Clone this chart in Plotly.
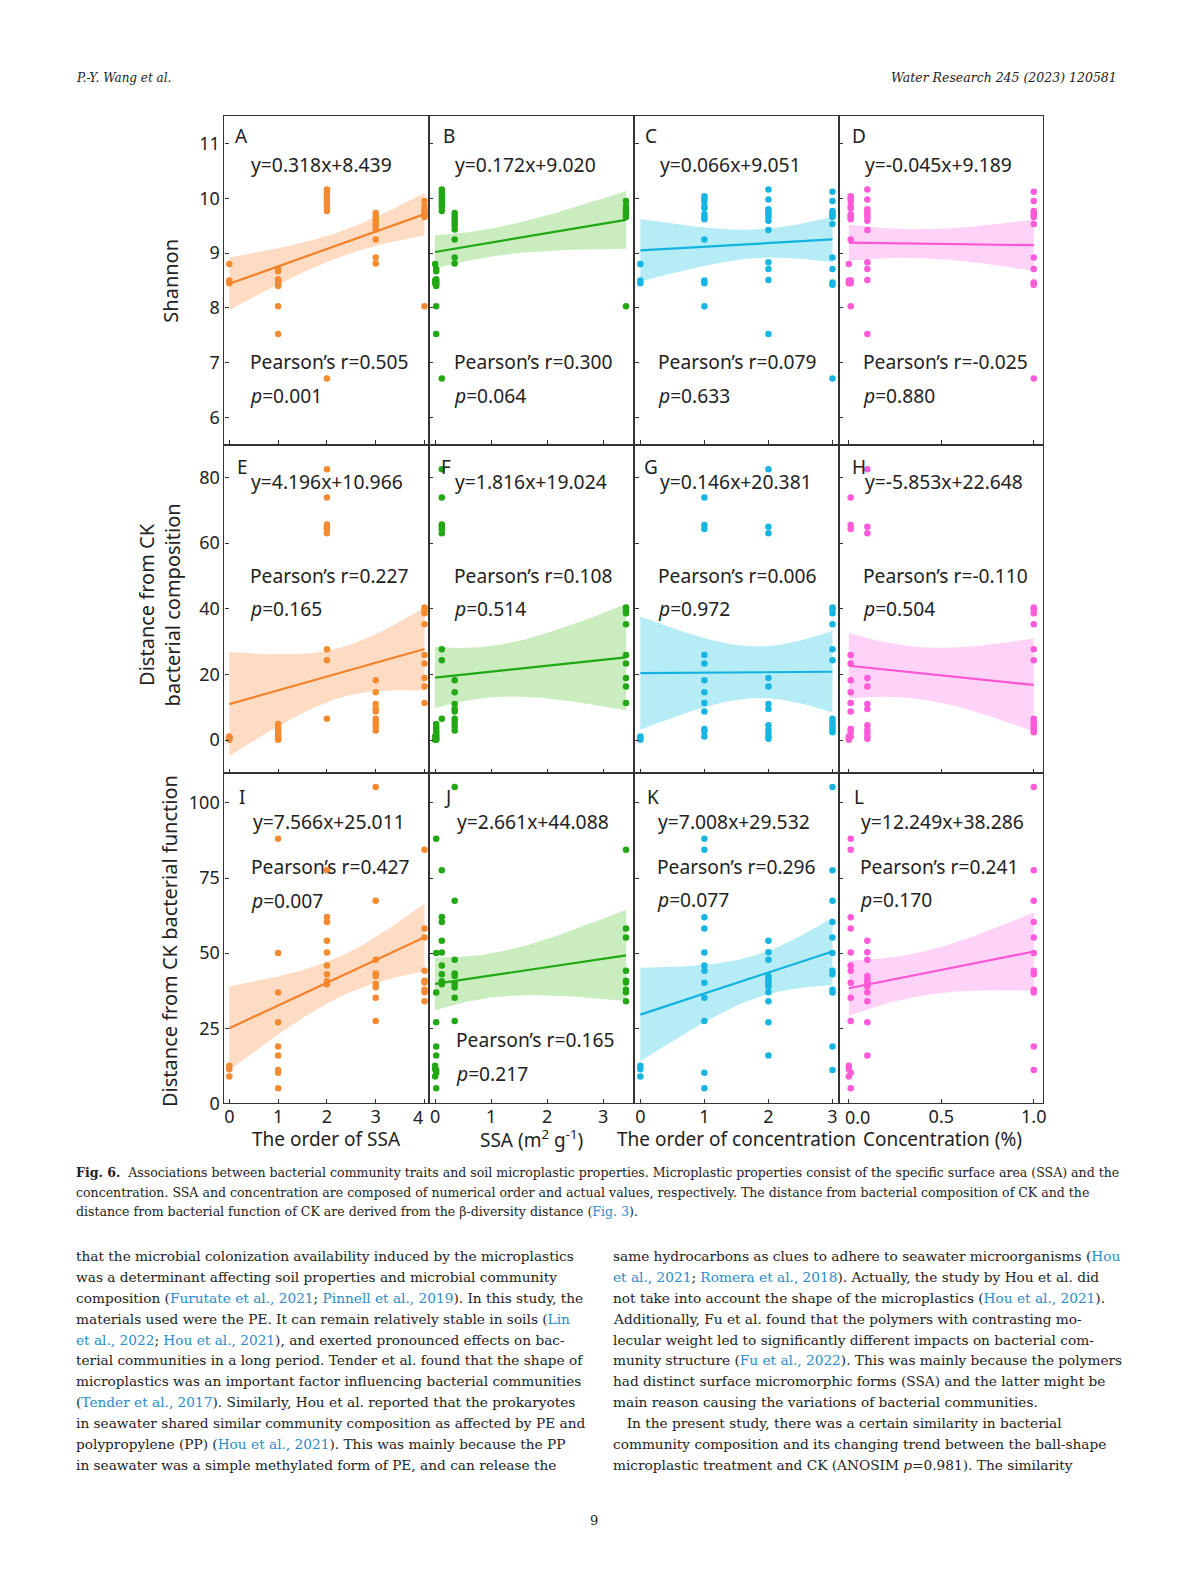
import numpy as np
import plotly.graph_objects as go

# ---------------- data ----------------
ssa_order = [0, 1, 2, 3, 4]
ssa_value = [0.0, 0.02, 0.12, 0.35, 3.41]
conc_order = [0, 1, 2, 3]
conc_value = [0.0, 0.01, 0.1, 1.0]

# Shannon index
shannon_ck = [8.80, 8.50, 8.45]
shannon_ssa1 = [8.71, 8.67, 8.52, 8.49, 8.46, 8.43, 8.40, 8.03, 7.52]
shannon_ssa2 = [10.16, 10.11, 10.05, 10.00, 9.95, 9.90, 9.84, 9.77, 6.71]
shannon_ssa3 = [9.73, 9.67, 9.62, 9.56, 9.50, 9.43, 9.25, 8.92, 8.81]
shannon_ssa4 = [9.95, 9.86, 9.80, 9.77, 9.73, 9.70, 9.68, 9.66, 8.03]
shannon_conc1 = [10.04, 10.00, 9.95, 9.86, 9.82, 9.71, 9.66, 9.62, 9.25, 8.50, 8.45, 8.03]
shannon_conc2 = [10.16, 9.98, 9.80, 9.76, 9.71, 9.66, 9.59, 9.42, 8.83, 8.71, 8.51, 7.52]
shannon_conc3 = [10.12, 9.95, 9.77, 9.73, 9.69, 9.66, 9.53, 8.92, 8.71, 8.46, 8.42, 6.71]

# Distance from CK bacterial composition
comp_ck = [1.1, 0.6, 0.1]
comp_ssa1 = [4.9, 3.9, 3.1, 2.6, 1.9, 1.3, 0.8, 0.4, 0.1]
comp_ssa2 = [82.5, 73.9, 65.7, 65.0, 64.2, 63.0, 27.7, 24.3, 6.5]
comp_ssa3 = [18.2, 14.6, 11.0, 9.5, 8.7, 6.5, 5.5, 4.2, 2.9]
comp_ssa4 = [40.4, 39.5, 38.6, 35.3, 25.9, 23.3, 18.9, 16.3, 11.3]
comp_conc1 = [73.9, 65.5, 64.3, 25.9, 23.3, 18.2, 14.6, 11.3, 8.7, 3.4, 2.6, 1.1]
comp_conc2 = [82.5, 65.0, 63.0, 18.9, 16.3, 11.0, 9.5, 4.5, 3.1, 2.2, 1.2, 0.4]
comp_conc3 = [40.4, 39.7, 38.6, 35.3, 27.7, 24.3, 6.5, 5.5, 4.5, 3.9, 3.1, 2.4]

# Distance from CK bacterial function
func_ck = [12.5, 11.3, 8.9]
func_ssa1 = [88.1, 50.0, 36.9, 27.0, 18.9, 15.9, 11.1, 10.2, 5.0]
func_ssa2 = [77.6, 62.0, 60.4, 54.1, 50.2, 45.9, 43.0, 40.6, 39.6]
func_ssa3 = [105.3, 67.4, 47.8, 43.2, 42.4, 39.8, 38.6, 35.1, 27.4]
func_ssa4 = [84.4, 58.2, 55.2, 44.1, 40.8, 40.2, 37.8, 37.0, 34.0]
func_conc1 = [88.1, 84.4, 61.9, 58.2, 50.2, 45.9, 44.1, 40.1, 35.1, 27.4, 10.2, 5.0]
func_conc2 = [54.1, 50.3, 47.8, 42.4, 41.4, 40.6, 39.8, 38.9, 37.0, 34.0, 27.0, 15.9]
func_conc3 = [105.3, 77.6, 67.4, 60.4, 55.2, 50.0, 44.1, 43.0, 37.8, 36.9, 18.9, 11.1]

# regression results printed in panels A..L
panel_letters = ["A", "B", "C", "D", "E", "F", "G", "H", "I", "J", "K", "L"]
slopes = [0.318, 0.172, 0.066, -0.045, 4.196, 1.816, 0.146, -5.853, 7.566, 2.661, 7.008, 12.249]
intercepts = [8.439, 9.020, 9.051, 9.189, 10.966, 19.024, 20.381, 22.648, 25.011, 44.088, 29.532, 38.286]
pearson_r = ["0.505", "0.300", "0.079", "-0.025", "0.227", "0.108", "0.006", "-0.110",
             "0.427", "0.165", "0.296", "0.241"]
p_values = ["0.001", "0.064", "0.633", "0.880", "0.165", "0.514", "0.972", "0.504",
            "0.007", "0.217", "0.077", "0.170"]
# panel J: the drawn line follows the least-squares fit of the points, not its printed label
line_from_fit = [False] * 9 + [True] + [False] * 2

row_ssa_groups = [
    [shannon_ck, shannon_ssa1, shannon_ssa2, shannon_ssa3, shannon_ssa4],
    [comp_ck, comp_ssa1, comp_ssa2, comp_ssa3, comp_ssa4],
    [func_ck, func_ssa1, func_ssa2, func_ssa3, func_ssa4],
]
row_conc_groups = [
    [shannon_ck, shannon_conc1, shannon_conc2, shannon_conc3],
    [comp_ck, comp_conc1, comp_conc2, comp_conc3],
    [func_ck, func_conc1, func_conc2, func_conc3],
]

y_ranges = [[5.5, 11.5], [-10, 90], [0, 110]]
y_ticks = [[6, 7, 8, 9, 10, 11], [0, 20, 40, 60, 80], [0, 25, 50, 75, 100]]
x_ranges = [[-0.1, 4.09], [-0.11, 3.56], [-0.093, 3.10], [-0.054, 1.052]]
x_ticks = [[0, 1, 2, 3, 4], [0, 1, 2, 3], [0, 1, 2, 3], [0, 0.5, 1.0]]
x_ticktext = [["0", "1", "2", "3", ""], ["0", "1", "2", "3"], ["0", "1", "2", "3"], ["", "0.5", "1.0"]]

point_colors = ["#F58B31", "#22A814", "#17B6E2", "#FF5BD8"]
line_colors = ["#F4822A", "#1EA812", "#12B3E0", "#FF55D4"]
band_colors = ["#FDDCC3", "#C9EDBE", "#B5ECF5", "#FFD3F8"]

# ---------------- layout geometry (page pixels) ----------------
OFF = 8
W, H = 1190 - 2 * OFF, 1587 - 2 * OFF


def px(x):
    return (x - OFF) / W


def py(y):
    return 1 - (y - OFF) / H


col_edges = [225, 430, 636, 841, 1046]
row_edges = [117, 447.7, 778.3, 1111]

SANS = "Noto Sans"
SERIF = "DejaVu Serif"
INK = "#222222"
AX = "#333333"

fig = go.Figure()
layout_axes = {}

T_CRIT = 2.026
for r in range(3):
    for c in range(4):
        k = r * 4 + c + 1
        if c < 2:
            groups = row_ssa_groups[r]
            xs_g = ssa_order if c == 0 else ssa_value
        else:
            groups = row_conc_groups[r]
            xs_g = conc_order if c == 2 else conc_value
        x = np.concatenate([[xs_g[g]] * len(groups[g]) for g in range(len(groups))]).astype(float)
        y = np.concatenate([groups[g] for g in range(len(groups))]).astype(float)
        if line_from_fit[k - 1]:
            b, a = np.polyfit(x, y, 1)
        else:
            b, a = slopes[k - 1], intercepts[k - 1]
        n = len(x)
        xbar = x.mean()
        sxx = ((x - xbar) ** 2).sum()
        s = np.sqrt(((y - (a + b * x)) ** 2).sum() / (n - 2))
        xl = np.linspace(x.min(), x.max(), 100)
        yl = a + b * xl
        se = s * np.sqrt(1.0 / n + (xl - xbar) ** 2 / sxx)
        up = yl + T_CRIT * se
        lo = yl - T_CRIT * se
        xa = "x" if k == 1 else f"x{k}"
        ya = "y" if k == 1 else f"y{k}"
        fig.add_trace(go.Scatter(
            x=np.concatenate([xl, xl[::-1]]), y=np.concatenate([up, lo[::-1]]),
            fill="toself", fillcolor=band_colors[c], line=dict(width=0),
            mode="lines", hoverinfo="skip", showlegend=False, xaxis=xa, yaxis=ya))
        fig.add_trace(go.Scatter(
            x=x, y=y, mode="markers",
            marker=dict(color=point_colors[c], size=6.5, line=dict(width=0)),
            showlegend=False, xaxis=xa, yaxis=ya))
        fig.add_trace(go.Scatter(
            x=xl, y=yl, mode="lines", line=dict(color=line_colors[c], width=2.2),
            showlegend=False, xaxis=xa, yaxis=ya))

        xname = "xaxis" if k == 1 else f"xaxis{k}"
        yname = "yaxis" if k == 1 else f"yaxis{k}"
        layout_axes[xname] = dict(
            domain=[px(col_edges[c]), px(col_edges[c + 1])],
            anchor=ya, range=x_ranges[c], tickvals=x_ticks[c], ticktext=x_ticktext[c],
            showticklabels=(r == 2), ticks="inside", ticklen=4, tickwidth=1.3, tickcolor=AX,
            ticklabelstandoff=-3,
            showline=True, linecolor=AX, linewidth=1.25, mirror=True,
            showgrid=False, zeroline=False,
            tickfont=dict(family=SANS, size=18, color=INK))
        layout_axes[yname] = dict(
            domain=[py(row_edges[r + 1]), py(row_edges[r])],
            anchor=xa, range=y_ranges[r], tickvals=y_ticks[r],
            showticklabels=(c == 0), ticks="inside", ticklen=4, tickwidth=1.3, tickcolor=AX,
            showline=True, linecolor=AX, linewidth=1.25, mirror=True,
            showgrid=False, zeroline=False,
            tickfont=dict(family=SANS, size=18, color=INK))

ann = []


def text(x, y, s, size=19, family=SANS, anchor="left", color=INK, angle=0):
    ann.append(dict(x=px(x), y=py(y), xref="paper", yref="paper", text=s, showarrow=False,
                    xanchor=anchor, yanchor="middle", textangle=angle,
                    font=dict(family=family, size=size, color=color)))


# panel texts (positions in page pixels)
letter_pos = [[(234, 136.5), (442, 136.5), (645, 136.5), (852, 136.5)],
              [(236, 470.7), (440, 470.7), (644, 470.7), (852, 470.7)],
              [(238, 803), (443, 803), (647, 803), (854, 803)]]
eq_pos = [[(250, 166), (454, 166), (660, 166), (865, 166)],
          [(250, 485), (454, 485), (660, 485), (865, 485)],
          [(252, 827.5), (456.5, 827.5), (658, 827.5), (861.5, 827.5)]]
r_pos = [[(249, 364.3), (453, 364.3), (658, 364.3), (863, 364.3)],
         [(249, 579.5), (453.5, 579.5), (658, 579.5), (863, 579.5)],
         [(250, 872.5), (455, 1047), (656.5, 872.5), (860.5, 872.5)]]
p_pos = [[(249, 398), (453, 398), (658, 398), (863, 398)],
         [(249, 613), (453.5, 613), (658, 613), (863, 613)],
         [(250, 907), (455, 1081), (656.5, 906), (860.5, 906)]]

for r in range(3):
    for c in range(4):
        k = r * 4 + c
        b, a = slopes[k], intercepts[k]
        eq = f"y={b:.3f}x+{a:.3f}"
        text(*letter_pos[r][c], panel_letters[k], size=19)
        text(*eq_pos[r][c], eq, size=19.3)
        text(*r_pos[r][c], f"Pearson\u2019s r={pearson_r[k]}", size=19.2)
        text(*p_pos[r][c], f"<i>p</i>={p_values[k]}", size=19.2)

# tick labels nudged away from the panel joints (as in the reference)
text(419.5, 1124.5, "4", size=18, anchor="center")
text(859.5, 1124.5, "0.0", size=18, anchor="center")

# axis titles
text(170, 283, "Shannon", size=20, anchor="center", angle=-90)
text(160, 609, "Distance from CK<br>bacterial composition", size=20, anchor="center", angle=-90)
text(170, 948, "Distance from CK bacterial function", size=20, anchor="center", angle=-90)
text(327, 1147, "The order of SSA", size=19, anchor="center")
text(533, 1147, "SSA (m<sup>2</sup> g<sup>-1</sup>)", size=19, anchor="center")
text(738, 1147, "The order of concentration", size=19, anchor="center")
text(945, 1147, "Concentration (%)", size=19, anchor="center")

# page header
text(74, 78, "<i>P.-Y. Wang et al.</i>", size=12, family=SERIF)
text(1122, 78, "<i>Water Research 245 (2023) 120581</i>", size=12.5, family=SERIF, anchor="right")

LINK = "#2A8BCC"


def L(s):
    return f'<span style="color:{LINK}">{s}</span>'


caption = [
    "<b>Fig. 6.</b>  Associations between bacterial community traits and soil microplastic properties. "
    "Microplastic properties consist of the specific surface area (SSA) and the",
    "concentration. SSA and concentration are composed of numerical order and actual values, respectively. "
    "The distance from bacterial composition of CK and the",
    "distance from bacterial function of CK are derived from the \u03b2-diversity distance (" + L("Fig. 3") + ").",
]
for i, line in enumerate(caption):
    text(74, 1181 + 19.5 * i, line, size=12.55, family=SERIF)

left_col = [
    "that the microbial colonization availability induced by the microplastics",
    "was a determinant affecting soil properties and microbial community",
    "composition (" + L("Furutate et al., 2021") + "; " + L("Pinnell et al., 2019") + "). In this study, the",
    "materials used were the PE. It can remain relatively stable in soils (" + L("Lin"),
    L("et al., 2022") + "; " + L("Hou et al., 2021") + "), and exerted pronounced effects on bac-",
    "terial communities in a long period. Tender et al. found that the shape of",
    "microplastics was an important factor influencing bacterial communities",
    "(" + L("Tender et al., 2017") + "). Similarly, Hou et al. reported that the prokaryotes",
    "in seawater shared similar community composition as affected by PE and",
    "polypropylene (PP) (" + L("Hou et al., 2021") + "). This was mainly because the PP",
    "in seawater was a simple methylated form of PE, and can release the",
]
right_col = [
    "same hydrocarbons as clues to adhere to seawater microorganisms (" + L("Hou"),
    L("et al., 2021") + "; " + L("Romera et al., 2018") + "). Actually, the study by Hou et al. did",
    "not take into account the shape of the microplastics (" + L("Hou et al., 2021") + ").",
    "Additionally, Fu et al. found that the polymers with contrasting mo-",
    "lecular weight led to significantly different impacts on bacterial com-",
    "munity structure (" + L("Fu et al., 2022") + "). This was mainly because the polymers",
    "had distinct surface micromorphic forms (SSA) and the latter might be",
    "main reason causing the variations of bacterial communities.",
    "\u2003In the present study, there was a certain similarity in bacterial",
    "community composition and its changing trend between the ball-shape",
    "microplastic treatment and CK (ANOSIM <i>p</i>=0.981). The similarity",
]
for i, line in enumerate(left_col):
    text(74, 1265 + 21.0 * i, line, size=13.7, family=SERIF)
for i, line in enumerate(right_col):
    text(613, 1265 + 21.0 * i, line, size=13.7, family=SERIF)

text(596, 1531, "9", size=13, family=SERIF, anchor="center")

fig.update_layout(
    width=W, height=H, margin=dict(l=0, r=0, t=0, b=0),
    paper_bgcolor="white", plot_bgcolor="white",
    annotations=ann, showlegend=False, **layout_axes)

fig.write_html("out.html")
